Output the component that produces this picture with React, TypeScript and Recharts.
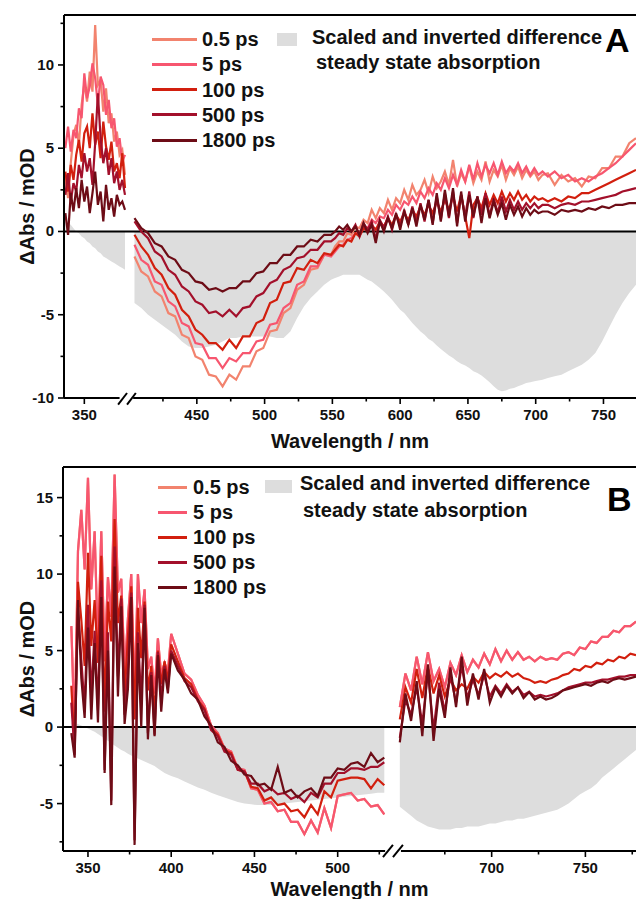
import React from "react";
import { ComposedChart, Line, Area, XAxis, YAxis, ReferenceLine } from "recharts";

const FONT = '"Liberation Sans", Arial, Helvetica, sans-serif';

// legend entries
const delays = ["0.5 ps", "5 ps", "100 ps", "500 ps", "1800 ps"];
const delayColors = ["#f2836e", "#f7566f", "#d21f0e", "#a3102b", "#6d0c16"];
const seriesKeys = ["s05", "s5", "s100", "s500", "s1800"];
const grayFill = "#dddddd";

// ---------- panel A ----------
const waveA1 = [336, 338, 340, 342, 344, 346, 348, 350, 352, 354, 356, 358, 360, 362, 364, 366, 368, 370, 372, 374, 376, 378, 380];
const a05L = [3.2, 2.0, 4.1, 5.8, 6.4, 5.2, 7.6, 8.9, 7.8, 9.6, 8.4, 12.4, 8.8, 9.1, 7.2, 8.6, 6.5, 7.1, 5.4, 6.0, 4.6, 4.9, 3.4];
const a5L = [5.0, 6.3, 4.8, 6.1, 5.6, 7.4, 6.8, 9.5, 8.0, 8.7, 10.1, 9.2, 7.6, 9.3, 8.8, 7.0, 7.9, 6.2, 6.8, 5.1, 5.6, 4.2, 4.6];
const a100L = [3.6, 2.4, 4.0, 3.1, 4.6, 5.5, 4.2, 5.9, 6.3, 5.0, 7.1, 5.2, 6.0, 4.4, 6.6, 5.1, 4.3, 5.4, 3.6, 4.1, 3.2, 4.7, 2.6];
const a500L = [2.2, 3.5, 1.8, 2.9, 2.4, 4.0, 3.2, 4.7, 3.6, 4.4, 2.8, 5.3, 8.3, 5.6, 4.1, 5.0, 3.4, 4.4, 2.9, 3.6, 2.5, 3.1, 2.2];
const a1800L = [1.1, -0.2, 2.3, 1.2, 2.6, 1.4, 3.1, 1.8, 2.7, 1.1, 2.3, 3.6, 1.6, 2.4, 0.6, 2.8, 1.3, 2.0, 0.9, 2.2, 1.6, 1.8, 1.3];
const grayA1 = [0.6, 0.5, 0.4, 0.2, 0.0, -0.1, -0.3, -0.4, -0.6, -0.7, -0.9, -1.0, -1.2, -1.3, -1.5, -1.6, -1.7, -1.8, -1.9, -2.0, -2.1, -2.2, -2.3];

const waveA2 = [
  404, 409, 414, 419, 424, 429, 434, 439, 444, 449,
  454, 459, 464, 469, 474, 479, 484, 489, 494, 499,
  504, 509, 514, 519, 524, 529, 534, 539, 544, 549,
  552, 555, 558, 561, 564, 567, 570, 573, 576, 579,
  582, 585, 588, 591, 594, 597, 600, 603, 606, 609,
  612, 615, 618, 621, 624, 627, 630, 633, 636, 639,
  642, 645, 648, 651, 654, 657, 660, 663, 666, 669,
  672, 675, 678, 681, 684, 687, 690, 693, 696, 699,
  702, 705,
  709, 714, 719, 724, 729, 734, 739, 744, 749, 754, 759, 764, 769, 774,
];
const a05R = [
  -1.5, -2.4, -2.7, -3.6, -3.9, -4.9, -5.1, -6.2, -6.4, -7.5,
  -7.7, -8.6, -8.7, -9.3, -8.6, -8.9, -8.1, -8.1, -7.2, -7.0,
  -6.0, -5.9, -4.9, -4.6, -3.5, -3.2, -2.3, -2.2, -1.4, -1.4,
  -0.9, -0.6, -0.6, -0.1, -0.2, 0.3, 0.2, 0.7, 0.5, 1.3,
  0.8, 1.4, 1.1, 1.9, 1.3, 2.0, 1.7, 2.5, 1.9, 2.8,
  2.2, 2.5, 3.1, 2.3, 3.3, 2.6, 3.0, 3.6, 2.8, 4.3,
  2.7, 3.5, 3.0, 3.9, 2.9, 3.6, 3.1, 4.2, 3.0, 3.7,
  3.3, 4.0, 3.1, 3.8, 3.4, 3.9, 3.2, 3.7, 3.3, 3.6,
  3.1, 3.4,
  3.5, 2.8, 3.4, 3.0, 3.2, 2.7, 3.3, 3.2, 3.8, 3.8, 4.5, 4.5, 5.3, 5.6,
];
const a5R = [
  -0.8, -1.7, -2.0, -3.0, -3.2, -4.2, -4.5, -5.5, -5.7, -6.7,
  -6.8, -7.6, -7.6, -8.2, -7.6, -7.8, -7.3, -7.3, -6.6, -6.5,
  -5.6, -5.5, -4.6, -4.3, -3.2, -3.0, -2.1, -2.1, -1.4, -1.5,
  -1.2, -0.9, -0.8, -0.5, -0.4, -0.1, -0.1, 0.3, 0.2, 0.7,
  0.5, 0.9, 0.8, 1.3, 1.0, 1.6, 1.3, 1.8, 1.6, 2.1,
  1.7, 2.4, 2.0, 2.6, 2.2, 2.9, 2.5, 3.2, 2.6, 3.4,
  2.8, 3.7, 3.0, 4.0, 3.1, 4.1, 3.3, 4.0, 3.5, 4.1,
  3.4, 4.2, 3.5, 3.9, 3.6, 4.1, 3.5, 3.9, 3.4, 3.8,
  3.4, 3.6,
  3.3, 3.6, 3.2, 3.4, 3.0, 3.2, 3.0, 3.3, 3.5, 3.8, 4.1, 4.5, 4.9, 5.3,
];
const a100R = [
  -0.2, -0.9, -1.4, -2.2, -2.6, -3.4, -3.8, -4.7, -5.1, -5.9,
  -6.2, -6.7, -6.7, -7.1, -6.5, -7.0, -6.3, -6.3, -5.5, -5.3,
  -4.3, -4.1, -3.1, -3.0, -2.2, -2.3, -1.7, -1.9, -1.3, -1.4,
  -1.1, -0.8, -0.9, -0.5, -0.6, -0.1, -0.3, 0.2, 0.0, 0.4,
  0.1, 0.6, 0.3, 0.8, 0.4, 1.0, 0.6, 1.1, 0.7, 1.3,
  0.9, 1.5, 1.0, 1.6, 1.1, 1.8, 1.2, 1.9, 1.3, 2.1,
  1.2, 2.2, 0.9, -0.4, 1.6, 2.0, 1.4, 2.3, 1.6, 2.2,
  1.7, 2.4, 1.8, 2.3, 1.9, 2.4, 1.9, 2.2, 1.8, 2.1,
  1.9, 2.0,
  1.8, 2.0, 1.8, 2.1, 2.0, 2.3, 2.3, 2.5, 2.7, 2.9, 3.1, 3.3, 3.5, 3.7,
];
const a500R = [
  0.6, 0.0, -0.4, -1.2, -1.5, -2.3, -2.6, -3.3, -3.6, -4.2,
  -4.4, -4.9, -4.8, -5.1, -4.7, -5.1, -4.6, -4.5, -3.9, -3.7,
  -3.1, -2.9, -2.3, -2.1, -1.6, -1.5, -1.1, -1.1, -0.6, -0.6,
  -0.4, -0.1, -0.2, 0.2, 0.0, 0.4, -0.3, 0.5, 0.1, 0.6,
  -0.5, 0.7, 0.2, 0.9, 0.1, 1.0, 0.3, 1.3, 0.4, 1.5,
  0.5, 1.7, 0.6, 1.9, 0.5, 2.1, 0.7, 2.3, 0.8, 2.4,
  0.5, 2.2, 0.9, 2.4, 0.8, 2.1, 1.0, 2.3, 0.9, 2.0,
  1.1, 2.1, 1.2, 1.9, 1.3, 1.8, 1.3, 1.7, 1.4, 1.7,
  1.4, 1.6,
  1.6, 1.4, 1.6, 1.7, 1.6, 1.8, 1.8, 1.9, 2.0, 2.1, 2.2, 2.4, 2.5, 2.6,
];
const a1800R = [
  0.8, 0.2, -0.1, -0.7, -0.9, -1.5, -1.7, -2.3, -2.5, -3.0,
  -3.1, -3.5, -3.4, -3.6, -3.4, -3.4, -3.0, -3.0, -2.5, -2.4,
  -1.9, -1.9, -1.4, -1.4, -0.9, -0.9, -0.5, -0.6, -0.2, -0.2,
  0.0, 0.3, 0.1, 0.4, 0.0, 0.3, -0.2, 0.5, -0.1, 0.4,
  -0.7, 0.6, 0.0, 0.8, 0.2, 1.1, 0.1, 1.2, 0.4, 1.4,
  0.3, 1.6, 0.7, 1.9, 0.4, 2.3, 0.6, 2.5, 0.9, 2.6,
  0.3, 2.4, 0.6, 2.2, 0.9, 2.1, 0.5, 2.0, 0.8, 1.8,
  1.0, 1.7, 0.7, 1.6, 1.0, 1.5, 0.9, 1.4, 1.0, 1.3,
  1.1, 1.2,
  1.2, 1.0, 1.3, 1.2, 1.3, 1.2, 1.4, 1.3, 1.5, 1.4, 1.6, 1.6, 1.7, 1.7,
];
const grayA2 = [
  -4.3, -4.6, -5.0, -5.3, -5.6, -5.9, -6.2, -6.6, -6.9, -7.0,
  -7.0, -6.9, -6.8, -6.6, -6.4, -6.4, -6.3, -6.3, -6.3, -6.3,
  -6.3, -6.4, -6.4, -6.0, -5.2, -4.5, -4.0, -3.6, -3.2, -2.9,
  -2.8, -2.7, -2.6, -2.6, -2.6, -2.6, -2.6, -2.75, -2.9, -3.0,
  -3.2, -3.4, -3.6, -3.85, -4.1, -4.4, -4.7, -4.9, -5.2, -5.5,
  -5.75, -6.0, -6.2, -6.45, -6.6, -6.85, -7.05, -7.25, -7.45, -7.6,
  -7.8, -7.95, -8.05, -8.2, -8.4, -8.5, -8.65, -8.85, -9.05, -9.3,
  -9.5, -9.6, -9.55, -9.45, -9.4, -9.3, -9.2, -9.1, -9.05, -9.0,
  -8.95, -8.9,
  -8.8, -8.7, -8.6, -8.4, -8.2, -8.0, -7.7, -7.3, -6.6, -5.8, -5.0, -4.3, -3.7, -3.2,
];

const xMajorA = [350, 450, 500, 550, 600, 650, 700, 750];
const xMinorA = [425, 475, 525, 575, 625, 675, 725];
const yTicksA = [-10, -7.5, -5, -2.5, 0, 2.5, 5, 7.5, 10, 12.5];

// ---------- panel B ----------
const waveB1 = [
  340, 342, 344, 346, 348, 350, 352, 354, 356, 358, 360, 362, 364, 366, 368, 370,
  372, 374, 376, 378, 380, 382, 384, 386, 388, 390, 392, 394, 396, 398, 400,
  404, 408, 412, 416, 420, 424, 428, 432, 436, 440, 444, 448, 452, 456, 460, 464,
  468, 472, 476, 480, 484, 488, 492, 496, 500, 504, 508, 512, 516, 520, 524, 528,
];
const b5L = [
  6.6, -0.5, 11.5, 14.2, 10.3, 16.3, 9.0, 12.8, 5.2, 12.8, 4.3, 9.8, 7.2, 16.5, 8.8, 9.7,
  3.5, 7.1, 10.0, 2.0, 10.0, 6.8, 9.0, 3.8, 4.6, 2.2, 5.8, 3.4, 4.2, 3.6, 6.1,
  4.8, 3.5, 3.1, 2.1, 1.4, 0.1, -0.4, -1.4, -1.6, -2.7, -2.8, -4.0, -4.1, -5.0, -4.9, -5.5,
  -5.4, -6.2, -6.2, -7.0, -6.1, -6.9, -5.3, -6.6, -4.5, -4.4, -4.3, -4.8, -4.7, -5.2, -5.1, -5.7,
];
const b100L = [
  2.7, -1.5, 9.5, 7.0, 4.0, 11.4, 5.3, 8.3, 4.2, 11.2, 1.0, 8.2, 5.6, 13.6, 6.8, 8.6,
  2.0, 5.9, 9.2, 0.5, 7.8, 4.5, 8.2, 2.4, 4.0, 0.8, 5.0, 2.8, 4.3, 3.0, 5.4,
  4.3, 3.2, 2.8, 1.8, 1.2, -0.1, -0.5, -1.5, -1.7, -2.8, -2.9, -3.9, -4.0, -4.8, -4.6, -5.1,
  -5.0, -5.5, -5.4, -5.9, -5.1, -5.7, -4.2, -4.6, -3.5, -3.4, -3.3, -3.3, -3.4, -4.0, -3.4, -3.8,
];
const b500L = [
  1.6, -1.8, 7.8, 4.4, 1.2, 8.0, 2.0, 6.3, 1.1, 9.6, -2.8, 6.2, -4.8, 11.8, 3.3, 8.4,
  0.8, 3.8, 8.8, -7.4, 6.2, 1.5, 8.0, -0.4, 3.6, -0.5, 4.9, 1.8, 4.0, 2.5, 5.0,
  4.0, 3.0, 2.6, 1.7, 1.1, -0.2, -0.6, -1.6, -1.8, -2.8, -2.9, -3.7, -3.7, -4.2, -4.0, -4.4,
  -4.3, -4.7, -4.5, -4.9, -4.3, -4.6, -3.7, -3.7, -3.0, -3.0, -2.7, -2.7, -2.8, -2.6, -2.6, -2.3,
];
const b1800L = [
  -0.4, -2.0, 8.3, 3.2, 0.6, 6.5, 0.5, 5.5, 0.3, 8.5, -3.0, 5.0, -5.1, 10.5, 2.0, 7.9,
  0.2, 2.5, 8.5, -7.7, 5.5, 0.0, 7.8, -0.8, 3.4, -0.6, 4.7, 1.0, 3.8, 2.2, 4.8,
  3.7, 3.1, 2.2, 1.8, 0.7, 0.1, -1.0, -1.3, -2.2, -2.5, -3.1, -3.2, -3.8, -3.7, -4.1, -2.6,
  -4.3, -4.1, -4.6, -4.2, -4.0, -4.5, -3.3, -3.3, -2.7, -2.8, -2.4, -2.3, -2.6, -1.7, -2.3, -2.0,
];
const grayB1 = [
  0.3, 0.25, 0.2, 0.1, 0.0, -0.1, -0.2, -0.3, -0.45, -0.6, -0.75, -0.9, -1.05, -1.2, -1.35, -1.5,
  -1.6, -1.75, -1.85, -1.95, -2.05, -2.15, -2.25, -2.35, -2.45, -2.55, -2.7, -2.85, -3.0, -3.1, -3.2,
  -3.35, -3.55, -3.75, -3.95, -4.1, -4.3, -4.45, -4.6, -4.75, -4.9, -5.0, -5.05, -5.1, -5.1, -5.1, -5.05,
  -5.0, -4.95, -4.9, -4.85, -4.8, -4.75, -4.7, -4.65, -4.6, -4.55, -4.5, -4.45, -4.4, -4.35, -4.3, -4.3,
];

const waveB2 = [
  651, 654, 657, 660, 663, 666, 669, 672, 675, 678,
  681, 684, 687, 690, 693, 696, 699, 702, 705, 708,
  711, 714, 717, 720, 723, 726, 729, 732, 735, 738,
  741, 744, 747, 750, 753, 756, 759, 762, 765, 768,
  771, 774, 777,
];
const b5R = [
  1.3, 3.5, 2.4, 4.6, 2.8, 4.9, 3.0, 3.8, 2.6, 4.2,
  3.4, 4.7, 3.6, 4.4, 3.9, 4.8, 4.1, 5.1, 4.3, 5.0,
  4.4, 4.9, 4.4, 4.6, 4.3, 4.6, 4.4, 4.5, 4.4, 4.8,
  4.9, 4.7, 5.2, 5.1, 5.6, 5.5, 5.9, 5.9, 6.3, 6.2,
  6.6, 6.6, 6.9,
];
const b100R = [
  0.5, 2.6, 1.6, 3.8, 1.9, 4.0, 2.2, 3.4, 2.0, 3.1,
  2.4, 2.8, 2.5, 3.3, 2.9, 3.6, 3.2, 3.5, 3.3, 3.6,
  3.3, 3.5, 3.2, 3.1, 2.9, 3.0, 2.9, 3.1, 3.2, 3.4,
  3.5, 3.8, 3.7, 4.0, 3.9, 4.2, 4.1, 4.4, 4.3, 4.6,
  4.5, 4.8, 4.7,
];
const b500R = [
  -0.7, 1.8, 0.8, 2.6, 0.2, 3.6, -0.2, 2.9, 1.0, 3.4,
  1.6, 4.0, 1.9, 3.1, 2.1, 3.4, 2.0, 2.7, 2.2, 2.8,
  2.3, 2.6, 2.1, 2.3, 2.0, 2.1, 2.0, 2.1, 2.2, 2.4,
  2.6, 2.7, 2.8, 2.9, 2.9, 3.0, 3.1, 3.1, 3.2, 3.3,
  3.3, 3.4, 3.4,
];
const b1800R = [
  -1.0, 2.2, 0.4, 3.0, -0.6, 4.1, -0.9, 2.5, 0.6, 3.9,
  1.3, 4.6, 1.4, 3.5, 1.8, 3.8, 1.6, 2.6, 2.0, 2.7,
  2.2, 2.6, 1.9, 2.3, 1.8, 2.0, 1.8, 1.9, 2.1, 2.4,
  2.5, 2.6, 2.7, 2.8, 2.7, 2.9, 3.0, 2.9, 3.1, 3.2,
  3.1, 3.2, 3.3,
];
const grayB2 = [
  -5.2, -5.5, -5.8, -6.1, -6.3, -6.5, -6.6, -6.7, -6.7, -6.7,
  -6.6, -6.6, -6.5, -6.5, -6.5, -6.4, -6.3, -6.3, -6.2, -6.1,
  -6.1, -6.0, -6.0, -5.9, -5.8, -5.7, -5.6, -5.5, -5.4, -5.2,
  -5.0, -4.7, -4.4, -4.2, -4.0, -3.7, -3.3, -3.0, -2.7, -2.4,
  -2.1, -1.8, -1.5,
];

const xMajorB = [350, 400, 450, 500, 700, 750];
const xMinorB = [375, 425, 475, 525, 675, 725, 775];
const yTicksB = [-7.5, -5, -2.5, 0, 2.5, 5, 7.5, 10, 12.5, 15];

// broken axes: wavelength -> position on a continuous axis
const toUA = (w: number) => (w < 392 ? w : w - 17);
const toUB = (w: number) => (w < 600 ? w : 536.2 + (w - 650) * 1.126);

type Row = Record<string, number | null>;

function segment(waves: number[], series: number[][], gray: number[], toU: (w: number) => number): Row[] {
  return waves.map((w, i) => {
    const row: Row = { u: toU(w), gray: gray[i] };
    seriesKeys.forEach((k, j) => (row[k] = series[j][i]));
    return row;
  });
}

function gapRow(u: number): Row {
  const row: Row = { u, gray: null };
  seriesKeys.forEach((k) => (row[k] = null));
  return row;
}

const rowsA = [
  ...segment(waveA1, [a05L, a5L, a100L, a500L, a1800L], grayA1, toUA),
  gapRow(384),
  ...segment(waveA2, [a05R, a5R, a100R, a500R, a1800R], grayA2, toUA),
];

// 0.5 ps is hidden under the 5 ps trace in panel B
const rowsB = [
  ...segment(waveB1, [b5L, b5L, b100L, b500L, b1800L], grayB1, toUB),
  gapRow(533),
  ...segment(waveB2, [b5R, b5R, b100R, b500R, b1800R], grayB2, toUB),
];

const XTick = (props: any) => {
  const { x, y, payload, labels } = props;
  const text = labels.get(payload.value);
  return (
    <g>
      <line x1={x} x2={x} y1={y} y2={y + (text ? 6 : 3.5)} stroke="#000" strokeWidth={1.6} />
      {text && (
        <text x={x} y={y + 22} textAnchor="middle" fontSize={15} fontWeight={700} fontFamily={FONT} fill="#111">
          {text}
        </text>
      )}
    </g>
  );
};

const YTick = (props: any) => {
  const { x, y, payload } = props;
  const v = payload.value;
  const major = v % 5 === 0;
  return (
    <g>
      <line x1={x - (major ? 6 : 3.5)} x2={x} y1={y} y2={y} stroke="#000" strokeWidth={1.6} />
      {major && (
        <text x={x - 10} y={y + 5} textAnchor="end" fontSize={15} fontWeight={700} fontFamily={FONT} fill="#111">
          {String(v)}
        </text>
      )}
    </g>
  );
};

type PanelProps = {
  rows: Row[];
  height: number;
  xDomain: [number, number];
  yDomain: [number, number];
  xMajor: number[];
  xMinor: number[];
  yTicks: number[];
  toU: (w: number) => number;
  yAxisWidth: number;
  xAxisHeight: number;
  titleOffset: number;
  gap: [number, number];
  slashes: [number, number, number];
  slashY: [number, number];
};

function Panel(p: PanelProps) {
  const labels = new Map(p.xMajor.map((w) => [p.toU(w), String(w)]));
  const xTicks = [...p.xMajor, ...p.xMinor].map(p.toU).sort((a, b) => a - b);
  const [x0, x1] = p.xDomain;
  const [y0, y1] = p.yDomain;
  const [s0, s1, s2] = p.slashes;
  const [lo, hi] = p.slashY;
  const titleStyle = { fontSize: 20, fontWeight: 700, fontFamily: FONT, fill: "#111" };
  return (
    <ComposedChart width={636} height={p.height} data={p.rows} margin={{ top: 15, right: 0, bottom: 0, left: 0 }}>
      <XAxis
        dataKey="u"
        type="number"
        domain={p.xDomain}
        allowDataOverflow
        ticks={xTicks}
        interval={0}
        height={p.xAxisHeight}
        axisLine={false}
        tickLine={false}
        tickSize={0}
        tickMargin={0}
        tick={(tp: any) => <XTick {...tp} labels={labels} />}
        label={{ value: "Wavelength / nm", position: "insideBottom", offset: p.titleOffset, style: titleStyle }}
      />
      <YAxis
        type="number"
        domain={p.yDomain}
        allowDataOverflow
        ticks={p.yTicks}
        interval={0}
        width={p.yAxisWidth}
        axisLine={false}
        tickLine={false}
        tickSize={0}
        tickMargin={0}
        tick={(tp: any) => <YTick {...tp} />}
        label={{
          value: "ΔAbs / mOD",
          angle: -90,
          position: "insideLeft",
          offset: 27,
          style: { ...titleStyle, textAnchor: "middle" },
        }}
      />
      <Area
        dataKey="gray"
        type="linear"
        baseValue={0}
        stroke="none"
        fill={grayFill}
        fillOpacity={1}
        dot={false}
        activeDot={false}
        isAnimationActive={false}
      />
      <ReferenceLine y={0} stroke="#000" strokeWidth={2} />
      {seriesKeys.map((k, i) => (
        <Line
          key={k}
          dataKey={k}
          type="linear"
          stroke={delayColors[i]}
          strokeWidth={2.2}
          dot={false}
          activeDot={false}
          isAnimationActive={false}
        />
      ))}
      <ReferenceLine x={x0} stroke="#000" strokeWidth={2} />
      <ReferenceLine y={y1} stroke="#000" strokeWidth={2} />
      <ReferenceLine segment={[{ x: x0, y: y0 }, { x: p.gap[0], y: y0 }]} stroke="#000" strokeWidth={2} ifOverflow="visible" />
      <ReferenceLine segment={[{ x: p.gap[1], y: y0 }, { x: x1, y: y0 }]} stroke="#000" strokeWidth={2} ifOverflow="visible" />
      <ReferenceLine segment={[{ x: s0, y: lo }, { x: s1, y: hi }]} stroke="#000" strokeWidth={2} ifOverflow="visible" />
      <ReferenceLine segment={[{ x: s1, y: lo }, { x: s2, y: hi }]} stroke="#000" strokeWidth={2} ifOverflow="visible" />
    </ComposedChart>
  );
}

const textBase: React.CSSProperties = {
  position: "absolute",
  fontFamily: FONT,
  fontWeight: 700,
  color: "#111",
  whiteSpace: "nowrap",
};

function LegendBlock(props: {
  rowTop: number;
  rowStep: number;
  lineLeft: number;
  lineWidth: number;
  textLeft: number;
  swatch: { left: number; top: number; width: number; height: number };
  grayText: { left: number; top: number }[];
  letter: string;
  letterPos: { left: number; top: number };
}) {
  const p = props;
  return (
    <>
      {delays.map((d, i) => {
        const cy = p.rowTop + i * p.rowStep;
        return (
          <React.Fragment key={d}>
            <div
              style={{
                position: "absolute",
                left: p.lineLeft,
                top: cy - 1.5,
                width: p.lineWidth,
                height: 3,
                background: delayColors[i],
              }}
            />
            <div style={{ ...textBase, left: p.textLeft, top: cy - 12, height: 24, lineHeight: "24px", fontSize: 20 }}>{d}</div>
          </React.Fragment>
        );
      })}
      <div style={{ position: "absolute", background: grayFill, ...p.swatch }} />
      {["Scaled and inverted difference", "steady state absorption"].map((t, i) => (
        <div
          key={t}
          style={{
            ...textBase,
            left: p.grayText[i].left,
            top: p.grayText[i].top - 12,
            height: 24,
            lineHeight: "24px",
            fontSize: 20,
          }}
        >
          {t}
        </div>
      ))}
      <div style={{ ...textBase, left: p.letterPos.left, top: p.letterPos.top - 20, height: 40, lineHeight: "40px", fontSize: 34, color: "#000" }}>
        {p.letter}
      </div>
    </>
  );
}

export default function App() {
  return (
    <div style={{ position: "absolute", left: 0, top: 0, width: 636, height: 899, overflow: "hidden", background: "#fff" }}>
      <div style={{ position: "absolute", left: 0, top: 0 }}>
        <Panel
          rows={rowsA}
          height={452}
          xDomain={[335, toUA(774)]}
          yDomain={[-10, 13]}
          xMajor={xMajorA}
          xMinor={xMinorA}
          yTicks={yTicksA}
          toU={toUA}
          yAxisWidth={64}
          xAxisHeight={54}
          titleOffset={4}
          gap={[376, 386]}
          slashes={[374.9, 381.5, 388]}
          slashY={[-10.4, -9.7]}
        />
      </div>
      <div style={{ position: "absolute", left: 0, top: 452 }}>
        <Panel
          rows={rowsB}
          height={447}
          xDomain={[335, toUB(777)]}
          yDomain={[-8.1, 17]}
          xMajor={xMajorB}
          xMinor={xMinorB}
          yTicks={yTicksB}
          toU={toUB}
          yAxisWidth={63}
          xAxisHeight={48}
          titleOffset={3}
          gap={[528.5, 538]}
          slashes={[527.2, 533.2, 539.2]}
          slashY={[-8.5, -7.7]}
        />
      </div>
      <LegendBlock
        rowTop={39}
        rowStep={25.3}
        lineLeft={152}
        lineWidth={45}
        textLeft={202}
        swatch={{ left: 277, top: 33, width: 20, height: 13 }}
        grayText={[
          { left: 312, top: 37 },
          { left: 316, top: 62 },
        ]}
        letter="A"
        letterPos={{ left: 605, top: 40 }}
      />
      <LegendBlock
        rowTop={487}
        rowStep={25}
        lineLeft={158}
        lineWidth={29}
        textLeft={193}
        swatch={{ left: 265, top: 480, width: 27, height: 13 }}
        grayText={[
          { left: 300, top: 483 },
          { left: 303, top: 510 },
        ]}
        letter="B"
        letterPos={{ left: 607, top: 499 }}
      />
    </div>
  );
}
